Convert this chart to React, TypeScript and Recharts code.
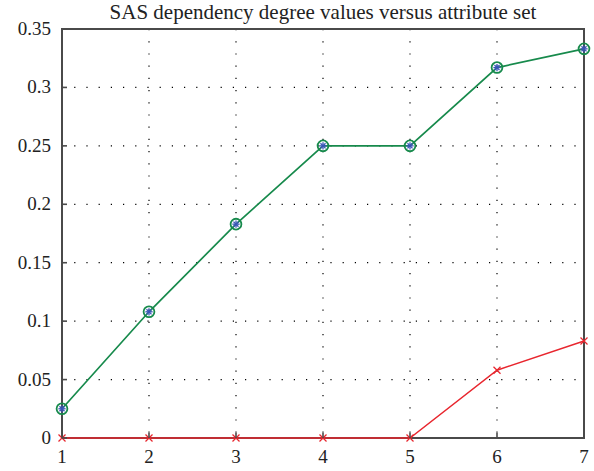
import React from "react";
import { LineChart, Line, XAxis, YAxis, CartesianGrid, ReferenceArea } from "recharts";

const attributeSets = [1, 2, 3, 4, 5, 6, 7];
const sasValues = [0.025, 0.108, 0.183, 0.25, 0.25, 0.317, 0.333];
const otherValues = [0, 0, 0, 0, 0, 0.058, 0.083];
const yTicks = [0, 0.05, 0.1, 0.15, 0.2, 0.25, 0.3, 0.35];
const yLabels = ["0", "0.05", "0.1", "0.15", "0.2", "0.25", "0.3", "0.35"];

const data = attributeSets.map((x, i) => ({ x, sas: sasValues[i], other: otherValues[i] }));

const FONT = "'Liberation Serif', 'DejaVu Serif', serif";
const FRAME = "#4a4a4a";

function BottomTick({ x, y, payload }: any) {
  return (
    <g>
      <line x1={x} x2={x} y1={y} y2={y - 5} stroke={FRAME} strokeWidth={1.6} />
      <text x={x} y={y + 25} textAnchor="middle" fontSize={19} fontFamily={FONT} fill="#222">
        {payload.value}
      </text>
    </g>
  );
}

function TopTick({ x, y }: any) {
  return <line x1={x} x2={x} y1={y} y2={y + 5} stroke={FRAME} strokeWidth={1.6} />;
}

function LeftTick({ x, y, payload }: any) {
  const idx = yTicks.indexOf(payload.value);
  return (
    <g>
      <line x1={x} x2={x + 5} y1={y} y2={y} stroke={FRAME} strokeWidth={1.6} />
      <text x={x - 11} y={y + 6} textAnchor="end" fontSize={19} fontFamily={FONT} fill="#222">
        {idx >= 0 ? yLabels[idx] : payload.value}
      </text>
    </g>
  );
}

function RightTick({ x, y }: any) {
  return <line x1={x} x2={x - 5} y1={y} y2={y} stroke={FRAME} strokeWidth={1.6} />;
}

function CircleStar({ cx, cy }: any) {
  if (cx == null || cy == null) return null;
  const r = 3.6;
  const d = r * 0.707;
  return (
    <g>
      <circle cx={cx} cy={cy} r={5.4} fill="none" stroke="#178a4c" strokeWidth={1.8} />
      <g stroke="#3a55b8" strokeWidth={1.3}>
        <line x1={cx - r} x2={cx + r} y1={cy} y2={cy} />
        <line x1={cx} x2={cx} y1={cy - r} y2={cy + r} />
        <line x1={cx - d} x2={cx + d} y1={cy - d} y2={cy + d} />
        <line x1={cx - d} x2={cx + d} y1={cy + d} y2={cy - d} />
      </g>
    </g>
  );
}

function Cross({ cx, cy }: any) {
  if (cx == null || cy == null) return null;
  const s = 3.5;
  return (
    <g stroke="#e8262e" strokeWidth={1.3}>
      <line x1={cx - s} x2={cx + s} y1={cy - s} y2={cy + s} />
      <line x1={cx - s} x2={cx + s} y1={cy + s} y2={cy - s} />
    </g>
  );
}

export default function App() {
  return (
    <div style={{ position: "absolute", left: 0, top: 0, width: 594, height: 471, background: "#fff" }}>
      <div
        style={{
          position: "absolute",
          left: 62,
          width: 522,
          top: 0,
          textAlign: "center",
          fontFamily: FONT,
          fontSize: 21,
          lineHeight: "24px",
          color: "#222",
        }}
      >
        SAS dependency degree values versus attribute set
      </div>
      <LineChart width={594} height={471} data={data} margin={{ top: 29, right: 10, bottom: 0, left: 0 }}>
        <CartesianGrid stroke="#000" strokeDasharray="1.2 11" strokeWidth={1.2} />
        <XAxis
          dataKey="x"
          type="number"
          domain={[1, 7]}
          ticks={attributeSets}
          height={33}
          tickSize={0}
          tickMargin={0}
          axisLine={false}
          tickLine={false}
          tick={<BottomTick />}
        />
        <XAxis
          xAxisId="top"
          dataKey="x"
          type="number"
          orientation="top"
          domain={[1, 7]}
          ticks={attributeSets}
          height={0}
          tickSize={0}
          tickMargin={0}
          axisLine={false}
          tickLine={false}
          tick={<TopTick />}
        />
        <YAxis
          type="number"
          domain={[0, 0.35]}
          ticks={yTicks}
          width={62}
          tickSize={0}
          tickMargin={0}
          axisLine={false}
          tickLine={false}
          tick={<LeftTick />}
          interval={0}
        />
        <YAxis
          yAxisId="right"
          orientation="right"
          type="number"
          domain={[0, 0.35]}
          ticks={yTicks}
          width={0}
          tickSize={0}
          tickMargin={0}
          axisLine={false}
          tickLine={false}
          tick={<RightTick />}
          interval={0}
        />
        <ReferenceArea x1={1} x2={7} y1={0} y2={0.35} fill="none" stroke={FRAME} strokeWidth={2} ifOverflow="visible" />
        <Line
          dataKey="other"
          stroke="#e8262e"
          strokeWidth={1.4}
          dot={<Cross />}
          isAnimationActive={false}
        />
        <Line
          dataKey="sas"
          stroke="#178a4c"
          strokeWidth={1.7}
          dot={<CircleStar />}
          isAnimationActive={false}
        />
      </LineChart>
    </div>
  );
}
